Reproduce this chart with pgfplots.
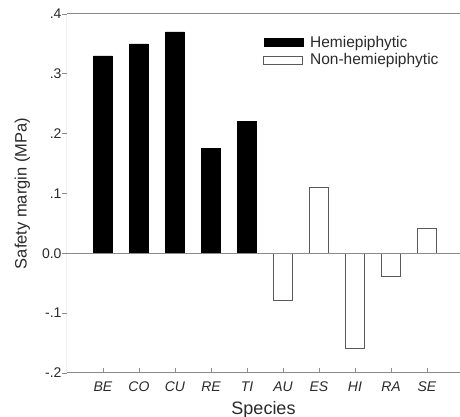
\documentclass[border=0pt]{standalone}
\usepackage{pgfplots}
\pgfplotsset{compat=1.18}
\usepackage{fontspec}
\setmainfont{Liberation Sans}
\definecolor{axgray}{HTML}{8A8A8A}
\definecolor{txt}{HTML}{2A2A2A}
\definecolor{edge}{HTML}{5A5A5A}
\begin{document}
\begin{tikzpicture}
\useasboundingbox (-67pt,-44pt) rectangle (393pt,373pt);
\begin{axis}[
  at={(0,0)}, anchor=south west,
  scale only axis, width=393pt, height=359pt,
  xmin=-1, xmax=9.917, ymin=-0.2, ymax=0.4,
  axis line style={draw=none},
  xtick pos=bottom, ytick pos=left,
  tick align=outside,
  major tick length=5pt,
  tick style={draw=axgray, line width=0.9pt},
  every major x tick/.append style={yshift=5pt},
  xtick={0,...,9},
  xticklabels={BE,CO,CU,RE,TI,AU,ES,HI,RA,SE},
  xticklabel style={font=\fontsize{14}{16}\selectfont\itshape, text=txt, yshift=0pt},
  ytick={-0.2,-0.1,0,0.1,0.2,0.3,0.4},
  yticklabels={-.2,-.1,0.0,.1,.2,.3,.4},
  yticklabel style={font=\fontsize{14}{16}\selectfont, text=txt, xshift=3pt},
  /pgf/number format/assume math mode=true,
  xlabel={Species},
  xlabel style={font=\fontsize{18}{20}\selectfont, text=txt, yshift=-3pt},
  ylabel={Safety margin (MPa)},
  ylabel style={font=\fontsize{16.5}{18}\selectfont, text=txt, yshift=5pt},
  ybar, bar width=19pt, bar shift=0pt,
  legend style={draw=none, fill=none, at={(0.499,0.945)}, anchor=north west,
    font=\fontsize{15.5}{17}\selectfont, text=txt, inner sep=0pt,
    row sep=1pt, cells={anchor=west}},
  legend image code/.code={\draw[#1] (0pt,-4pt) rectangle (39pt,4pt); \path (44pt,0pt);},
]
\addplot[fill=black, draw=black] coordinates {(0,0.33) (1,0.35) (2,0.37) (3,0.176) (4,0.22)};
\addlegendentry{Hemiepiphytic}
\addplot[fill=white, draw=edge, line width=0.8pt] coordinates {(5,-0.079) (6,0.11) (7,-0.159) (8,-0.039) (9,0.041)};
\addlegendentry{Non-hemiepiphytic}
\draw[axgray, line width=1pt] (rel axis cs:0,0) -- (rel axis cs:1,0);
\draw[axgray, line width=1pt] (rel axis cs:0,0) -- (rel axis cs:0,1);
\draw[axgray, line width=1pt] (rel axis cs:0,1) -- (rel axis cs:1,1);
\draw[axgray, line width=1pt] (axis cs:-1,0) -- (axis cs:9.917,0);
\end{axis}
\end{tikzpicture}
\end{document}
